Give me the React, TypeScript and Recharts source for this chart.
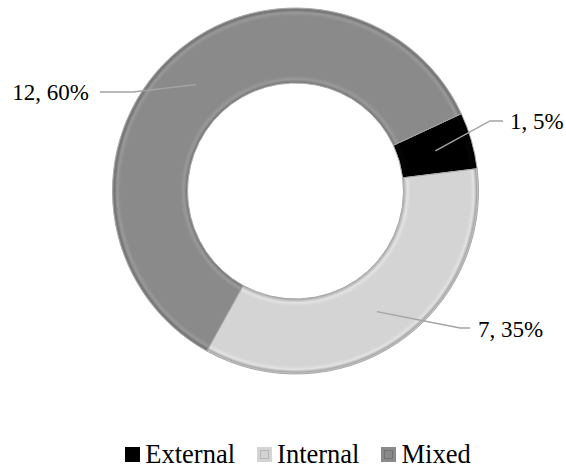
import React from 'react';
import { PieChart, Pie, Cell, Legend } from 'recharts';

const categories = ['External', 'Internal', 'Mixed'];
const counts = [1, 7, 12];
const percents = [5, 35, 60];

const data = categories.map((name, i) => ({ name, value: counts[i], pct: percents[i] }));

const fills = ['url(#gExternal)', 'url(#gInternal)', 'url(#gMixed)'];
const legendColors = ['#000000', '#d4d4d4', '#8a8a8a'];

const FONT = '"Times New Roman", Times, "Liberation Serif", serif';

// where each label's leader line bends (relative to centre, in outer radii) and which side the text sits
const labelLayout = [
  { ex: 1.063, ey: -0.383, tail: 13, side: 1, gap: 7 },
  { ex: 0.899, ey: 0.749, tail: 10, side: 1, gap: 8 },
  { ex: -0.888, ey: -0.541, tail: -33, side: -1, gap: 11 },
];

const CX = 295.5;
const CY = 191;
const INNER = 108;
const OUTER = 183;
const RADIAN = Math.PI / 180;

const renderLabel = (props: any) => {
  const { cx, cy, midAngle, innerRadius, outerRadius, index } = props;
  const lay = labelLayout[index];
  const mid = (innerRadius + outerRadius) / 2;
  const sx = cx + mid * Math.cos(-midAngle * RADIAN);
  const sy = cy + mid * Math.sin(-midAngle * RADIAN);
  const ex = cx + lay.ex * outerRadius;
  const ey = cy + lay.ey * outerRadius;
  const tx = ex + lay.tail;
  return (
    <g>
      <polyline
        points={`${sx},${sy} ${ex},${ey} ${tx},${ey}`}
        fill="none"
        stroke="#a3a3a3"
        strokeWidth={1.5}
      />
      <text
        x={tx + lay.side * lay.gap}
        y={ey + 1}
        textAnchor={lay.side > 0 ? 'start' : 'end'}
        dominantBaseline="central"
        style={{ fontFamily: FONT, fontSize: 23 }}
        fill="#000"
      >
        {`${counts[index]}, ${percents[index]}%`}
      </text>
    </g>
  );
};

const LegendIcon = ({ i }: { i: number }) => (
  <svg width={15} height={15} style={{ marginRight: 5 }}>
    <rect x={0} y={0} width={15} height={15} fill={legendColors[i]} />
    {i > 0 && (
      <rect x={3.5} y={3.5} width={8} height={8} fill="none" stroke={i === 1 ? '#b5b5b5' : '#727272'} strokeWidth={1} />
    )}
  </svg>
);

const renderLegend = () => (
  <div
    style={{
      display: 'flex',
      justifyContent: 'center',
      alignItems: 'center',
      gap: 22,
      paddingLeft: 30,
      fontFamily: FONT,
      fontSize: 26.5,
      lineHeight: '30px',
      color: '#000',
    }}
  >
    {categories.map((c, i) => (
      <div key={c} style={{ display: 'flex', alignItems: 'center' }}>
        <LegendIcon i={i} />
        <span>{c}</span>
      </div>
    ))}
  </div>
);

const ringStops = (base: string, light: string, dark: string) => {
  const s = INNER / OUTER;
  return [
    { o: s, c: dark },
    { o: s + 0.02, c: light },
    { o: s + 0.04, c: base },
    { o: 0.955, c: base },
    { o: 0.975, c: light },
    { o: 0.99, c: dark },
    { o: 1, c: base },
  ];
};

const gradients = [
  { id: 'gExternal', stops: ringStops('#000000', '#050505', '#000000') },
  { id: 'gInternal', stops: ringStops('#d4d4d4', '#e2e2e2', '#a9a9a9') },
  { id: 'gMixed', stops: ringStops('#8a8a8a', '#999999', '#747474') },
];

export default function App() {
  return (
    <div style={{ position: 'absolute', left: 0, top: 0, width: 566, height: 468, background: '#fff' }}>
      <PieChart width={566} height={468} margin={{ top: 0, right: 0, bottom: 0, left: 0 }}>
        <defs>
          {gradients.map((g) => (
            <radialGradient key={g.id} id={g.id} gradientUnits="userSpaceOnUse" cx={CX} cy={CY} r={OUTER}>
              {g.stops.map((s, k) => (
                <stop key={k} offset={s.o} stopColor={s.c} />
              ))}
            </radialGradient>
          ))}
        </defs>
        <Pie
          data={data}
          dataKey="value"
          nameKey="name"
          cx={CX}
          cy={CY}
          innerRadius={INNER}
          outerRadius={OUTER}
          startAngle={25}
          endAngle={-335}
          stroke="#a8a8a8"
          strokeWidth={1}
          label={renderLabel}
          labelLine={false}
          isAnimationActive={false}
        >
          {data.map((d, i) => (
            <Cell key={d.name} fill={fills[i]} />
          ))}
        </Pie>
        <Legend content={renderLegend} wrapperStyle={{ top: 439, left: 0, width: 566 }} />
      </PieChart>
    </div>
  );
}
